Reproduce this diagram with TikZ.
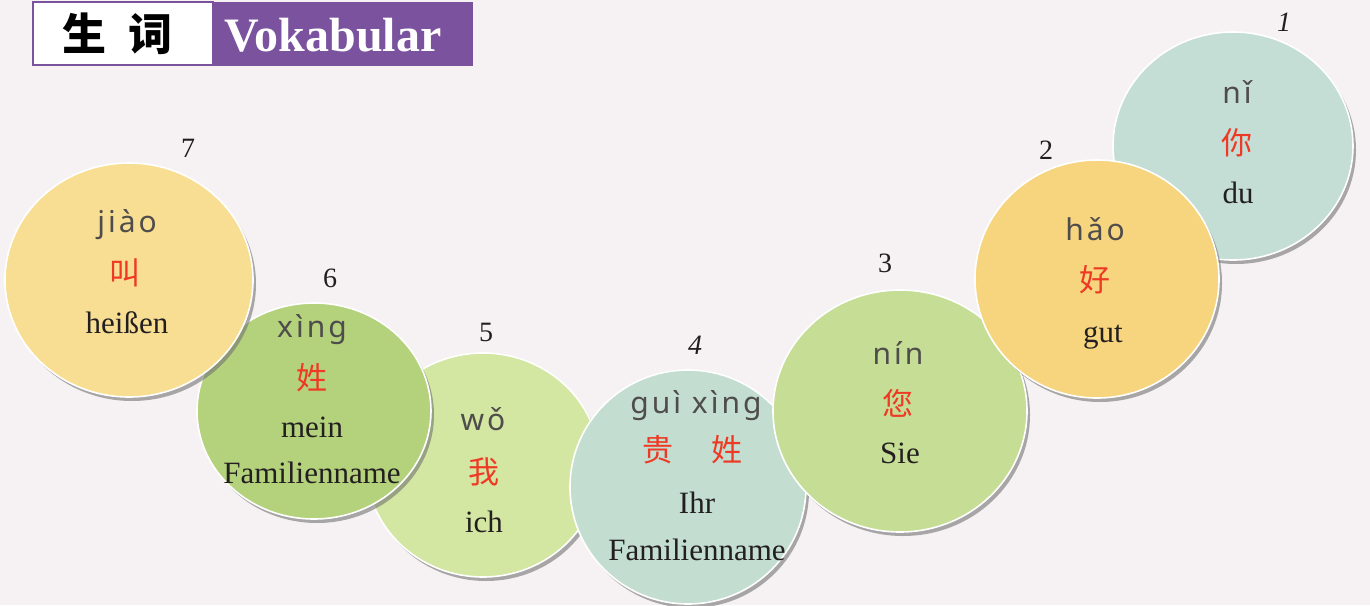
\documentclass[tikz,border=0pt]{standalone}
\usepackage{fontspec}
\setmainfont{Liberation Serif}
\newfontfamily\pyfont{Noto Sans}[LetterSpace=10]
\newfontfamily\cjk{Noto Sans CJK SC}
\usetikzlibrary{positioning,shapes.geometric,shadows}

\definecolor{bg}{HTML}{F6F2F3}
\definecolor{hdr}{HTML}{7A529E}
\definecolor{ink}{HTML}{231F20}
\definecolor{hzred}{HTML}{EE3A24}
\definecolor{yellowA}{HTML}{F8DE92}
\definecolor{yellowB}{HTML}{F7D57E}
\definecolor{greenA}{HTML}{B4D27C}
\definecolor{greenB}{HTML}{D3E6A2}
\definecolor{greenC}{HTML}{C6DD95}
\definecolor{blueA}{HTML}{C3DDD0}
\definecolor{blueB}{HTML}{C4DED6}

\tikzset{
  bubble/.style={ellipse, draw=white, line width=0.8pt, inner sep=0pt,
    drop shadow={shadow xshift=1.5pt, shadow yshift=-2pt, fill=black!55, opacity=0.6}},
  py/.style={anchor=base, text=ink!80, font=\pyfont\fontsize{15}{15}\selectfont},
  hz/.style={text=hzred, font=\cjk\fontsize{15.5}{15.5}\selectfont},
  de/.style={anchor=base, text=ink, font=\fontsize{15.5}{15.5}\selectfont},
  num/.style={text=ink, font=\fontsize{14}{14}\selectfont}
}

\begin{document}
\begin{tikzpicture}[x=0.5pt, y=-0.5pt]
    \useasboundingbox (0,0) rectangle (1370,605);
    \fill[bg] (0,0) rectangle (1370,605);

    % header
    \node[draw=hdr, line width=1pt, fill=white, minimum width=90pt, minimum height=31.5pt] (HeadL) at (123,33.5){};
    \node[fill=hdr, minimum width=130pt, minimum height=32pt] (HeadR) at (343,33.5){};
    \node[font=\cjk\bfseries\fontsize{22}{22}\selectfont] (Shengci) at (117,34){生\hspace{11pt}词};
    \node[text=white, font=\bfseries\fontsize{24}{24}\selectfont] (Vokabular) at (333,35){Vokabular};

    % bubbles, back to front
    \node[bubble, fill=blueB, minimum width=120pt, minimum height=114pt] (Ni) at (1233,146){};
    \node[bubble, fill=greenB, minimum width=117pt, minimum height=112pt] (Wo) at (483,465){};
    \node[bubble, fill=blueA, minimum width=118pt, minimum height=117pt] (Guixing) at (688,487){};
    \node[bubble, fill=greenC, minimum width=127pt, minimum height=121pt] (Nin) at (900,411){};
    \node[bubble, fill=yellowB, minimum width=122pt, minimum height=119pt] (Hao) at (1097,279){};
    \node[bubble, fill=greenA, minimum width=117pt, minimum height=108pt] (Xing) at (314,411){};
    \node[bubble, fill=yellowA, minimum width=124pt, minimum height=117pt] (Jiao) at (129,280){};

    % numbers
    \node[num, font=\itshape\fontsize{14}{14}\selectfont] (N1) at (1284,22){1};
    \node[num] (N2) at (1046,150){2};
    \node[num] (N3) at (885,263){3};
    \node[num, font=\itshape\fontsize{14}{14}\selectfont] (N4) at (695,345){4};
    \node[num] (N5) at (486,332){5};
    \node[num] (N6) at (330,278){6};
    \node[num] (N7) at (188,148){7};

    % words
    \node[py] (NiPy) at (1237,103){nǐ};
    \node[hz] (NiHz) at (1237,143){你};
    \node[de] (NiDe) at (1238,203){du};

    \node[py] (HaoPy) at (1095,240){hǎo};
    \node[hz] (HaoHz) at (1095,280){好};
    \node[de] (HaoDe) at (1103,342){gut};

    \node[py] (NinPy) at (898,364){nín};
    \node[hz] (NinHz) at (898,403){您};
    \node[de] (NinDe) at (900,463){Sie};

    \node[py] (GuixingPy) at (696,413){guì xìng};
    \node[hz] (GuiHz) at (658,450){贵};
    \node[hz] (XingHzB) at (727,450){姓};
    \node[de] (GuixingDeA) at (697,513){Ihr};
    \node[de] (GuixingDeB) at (697,560){Familienname};

    \node[py] (WoPy) at (483,430){wǒ};
    \node[hz] (WoHz) at (484,472){我};
    \node[de] (WoDe) at (484,532){ich};

    \node[py] (XingPy) at (312,337){xìng};
    \node[hz] (XingHz) at (312,378){姓};
    \node[de] (XingDeA) at (312,437){mein};
    \node[de] (XingDeB) at (312,483){Familienname};

    \node[py] (JiaoPy) at (127,232){jiào};
    \node[hz] (JiaoHz) at (125,273){叫};
    \node[de] (JiaoDe) at (127,333){heißen};
\end{tikzpicture}
\end{document}
